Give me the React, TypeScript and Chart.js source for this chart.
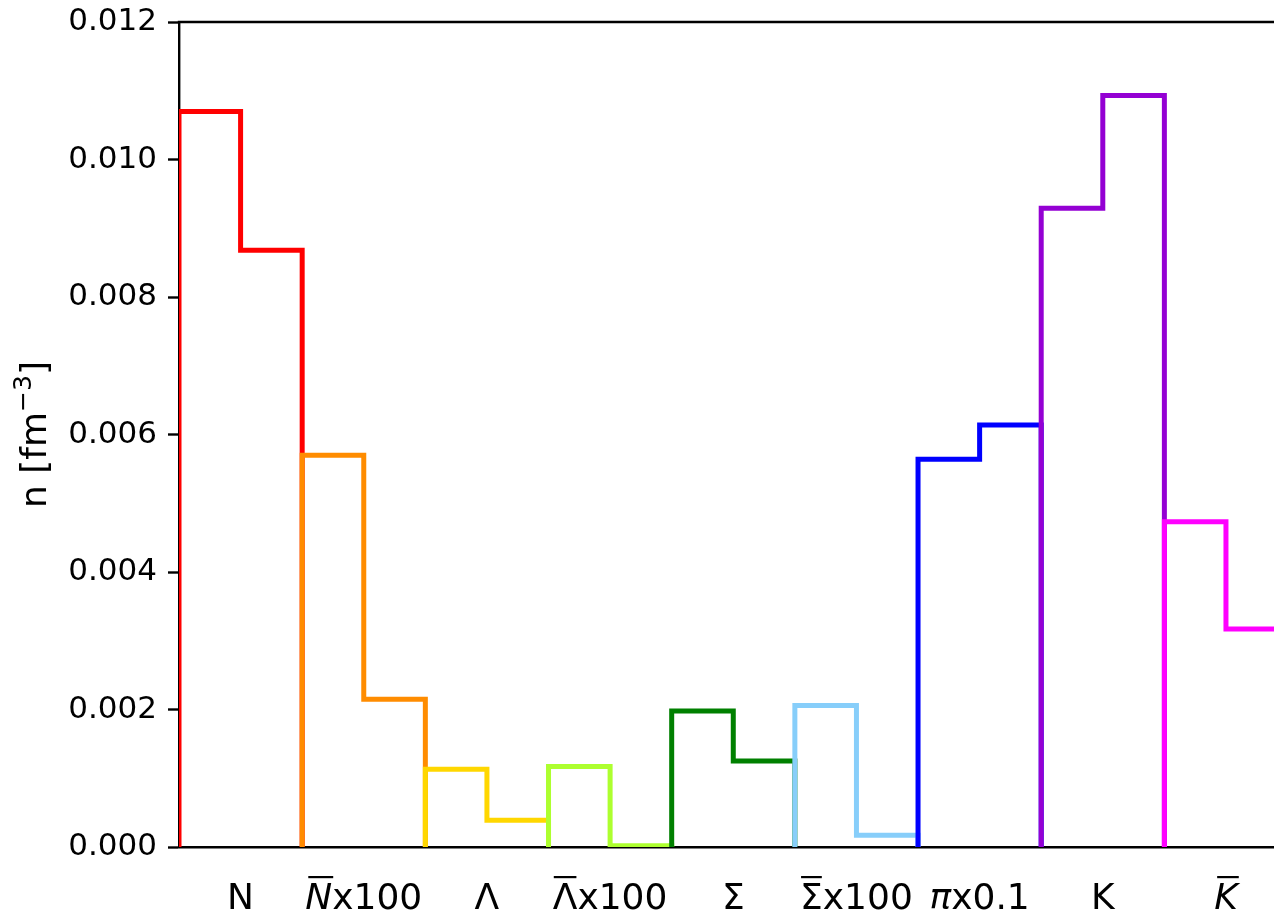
import React, { useEffect, useRef } from 'react';
import { Chart, registerables } from 'chart.js';

Chart.register(...registerables);

// ---- data ----
const particleSymbols = ['N', 'N', 'Λ', 'Λ', 'Σ', 'Σ', 'π', 'K', 'K'];
const symbolOverlined = [false, true, false, true, false, true, false, false, true];
const symbolItalic = [false, true, false, false, false, false, true, false, true];
const labelSuffixes = ['', 'x100', '', 'x100', '', 'x100', 'x0.1', '', ''];
const firstBin = [0.0107, 0.0057, 0.00113, 0.00117, 0.00198, 0.00206, 0.00564, 0.00929, 0.00473];
const secondBin = [0.00868, 0.00215, 0.00039, 0.00002, 0.00125, 0.00017, 0.00614, 0.01093, 0.00317];
const particleColors = ['#ff0000', '#ff8c00', '#ffd700', '#adff2f', '#008000', '#87cefa', '#0000ff', '#9400d3', '#ff00ff'];
const yTitleMain = 'n [fm';
const yTitleSup = '−3';
const yTitleEnd = ']';
const xMin = 0;
const xMax = 17.78;
const yMin = 0;
const yMax = 0.012;
const yStep = 0.002;

const FONT = "'DejaVu Sans', sans-serif";

const xLabelPlugin = {
  id: 'xLabels',
  afterDraw(chart: any) {
    const ctx = chart.ctx;
    const xs = chart.scales.x;
    const baseY = chart.chartArea.bottom + 62;
    ctx.save();
    ctx.fillStyle = '#000';
    ctx.textBaseline = 'alphabetic';
    ctx.textAlign = 'left';
    particleSymbols.forEach((sym, i) => {
      const center = xs.getPixelForValue(2 * i + 1);
      const symFont = (symbolItalic[i] ? 'italic ' : '') + '36px ' + FONT;
      const sufFont = '36px ' + FONT;
      ctx.font = symFont;
      const wSym = ctx.measureText(sym).width;
      ctx.font = sufFont;
      const wSuf = labelSuffixes[i] ? ctx.measureText(labelSuffixes[i]).width : 0;
      const start = center - (wSym + wSuf) / 2;
      ctx.font = symFont;
      ctx.fillText(sym, start, baseY);
      if (symbolOverlined[i]) {
        ctx.fillRect(start + (symbolItalic[i] ? 3 : 1), baseY - 33, wSym - 2, 2.2);
      }
      if (labelSuffixes[i]) {
        ctx.font = sufFont;
        ctx.fillText(labelSuffixes[i], start + wSym, baseY);
      }
    });

    // y axis title, rotated, with a real superscript
    const ca = chart.chartArea;
    const cy = (ca.top + ca.bottom) / 2;
    const mainFont = '36px ' + FONT;
    const supFont = '25px ' + FONT;
    ctx.font = mainFont;
    const w1 = ctx.measureText(yTitleMain).width;
    const w3 = ctx.measureText(yTitleEnd).width;
    ctx.font = supFont;
    const w2 = ctx.measureText(yTitleSup).width;
    const total = w1 + w2 + w3;
    ctx.translate(46, cy);
    ctx.rotate(-Math.PI / 2);
    let x = -total / 2;
    ctx.font = mainFont;
    ctx.fillText(yTitleMain, x, 0);
    x += w1;
    ctx.font = supFont;
    ctx.fillText(yTitleSup, x, -15);
    x += w2;
    ctx.font = mainFont;
    ctx.fillText(yTitleEnd, x, 0);
    ctx.restore();
  },
};

const topSpinePlugin = {
  id: 'topSpine',
  afterDatasetsDraw(chart: any) {
    const { ctx, chartArea } = chart;
    ctx.save();
    ctx.strokeStyle = '#000';
    ctx.lineWidth = 2.4;
    ctx.beginPath();
    ctx.moveTo(chartArea.left - 1.2, chartArea.top);
    ctx.lineTo(chartArea.right, chartArea.top);
    ctx.stroke();
    ctx.restore();
  },
};

export default function App() {
  const canvasRef = useRef<HTMLCanvasElement | null>(null);

  useEffect(() => {
    document.body.style.margin = '0';
    const canvas = canvasRef.current;
    if (!canvas) return;

    const datasets = particleSymbols.map((_, i) => {
      const x0 = 2 * i;
      return {
        label: particleSymbols[i] + labelSuffixes[i],
        data: [
          { x: x0, y: 0 },
          { x: x0, y: firstBin[i] },
          { x: x0 + 1, y: firstBin[i] },
          { x: x0 + 1, y: secondBin[i] },
          { x: x0 + 2, y: secondBin[i] },
          { x: x0 + 2, y: 0 },
        ],
        borderColor: particleColors[i],
        backgroundColor: particleColors[i],
        borderWidth: 5,
        borderJoinStyle: 'miter' as const,
        borderCapStyle: 'butt' as const,
        pointRadius: 0,
        tension: 0,
        fill: false,
        order: particleSymbols.length - 1 - i,
      };
    });

    const chart = new Chart(canvas, {
      type: 'line',
      data: { datasets },
      plugins: [topSpinePlugin, xLabelPlugin],
      options: {
        animation: false,
        responsive: false,
        maintainAspectRatio: false,
        devicePixelRatio: 1,
        layout: { padding: { top: 22, left: 0, right: 0, bottom: 0 } },
        plugins: {
          legend: { display: false },
          tooltip: { enabled: false },
          title: { display: false },
        },
        scales: {
          x: {
            type: 'linear',
            min: xMin,
            max: xMax,
            z: 1,
            grid: { display: false },
            border: { display: true, color: '#000', width: 2.4 },
            ticks: { display: false },
            afterFit: (axis: any) => {
              axis.height = 67;
              axis.paddingLeft = 0;
              axis.paddingRight = 0;
            },
          },
          y: {
            type: 'linear',
            min: yMin,
            max: yMax,
            z: 1,
            grid: {
              display: true,
              drawOnChartArea: false,
              drawTicks: true,
              tickLength: 11,
              tickWidth: 2.4,
              tickColor: '#000',
              color: '#000',
            },
            border: { display: true, color: '#000', width: 2.4 },
            ticks: {
              stepSize: yStep,
              padding: 11,
              color: '#000',
              font: { family: FONT, size: 31 },
              callback: (v: any) => Number(v).toFixed(3),
            },
            title: { display: false },
            afterFit: (axis: any) => {
              axis.width = 179;
              axis.paddingTop = 0;
              axis.paddingBottom = 0;
            },
          },
        },
      },
    });

    return () => chart.destroy();
  }, []);

  return (
    <div style={{ position: 'absolute', left: 0, top: 0, width: 1274, height: 914, overflow: 'hidden', background: '#fff' }}>
      <canvas ref={canvasRef} width={1274} height={914} style={{ display: 'block' }} />
    </div>
  );
}
